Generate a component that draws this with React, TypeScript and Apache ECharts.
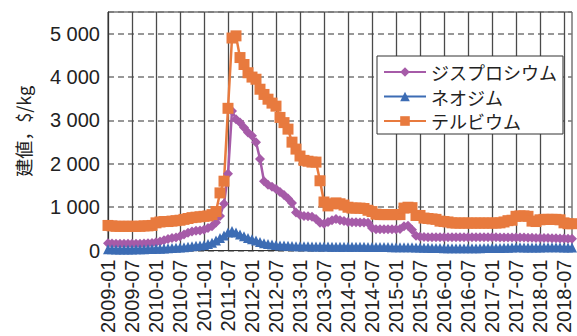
import React, { useEffect, useRef } from 'react';
import * as echarts from 'echarts';

const years = [2009, 2010, 2011, 2012, 2013, 2014, 2015, 2016, 2017, 2018];
const lastMonthOf2018 = 9;
const categories: string[] = [];
for (const y of years) {
  for (let m = 1; m <= 12; m++) {
    if (y === 2018 && m > lastMonthOf2018) break;
    categories.push(`${y}-${String(m).padStart(2, '0')}`);
  }
}

const seriesNames = ['ジスプロシウム', 'ネオジム', 'テルビウム'];

// ジスプロシウム (Dy)
const dysprosium = [
  170, 165, 160, 160, 160, 160, 160, 160, 160, 165, 170, 175,
  190, 210, 240, 270, 290, 300, 330, 370, 410, 440, 460, 465,
  480, 520, 560, 650, 800, 1080, 1770, 3220, 3030, 2950, 2840, 2720,
  2650, 2500, 2110, 1600, 1520, 1470, 1420, 1350, 1280, 1200, 1100, 880,
  820, 800, 790, 780, 730, 640, 620, 660, 700, 730, 700, 680,
  660, 655, 655, 650, 650, 640, 520, 490, 490, 490, 490, 490,
  490, 500, 560, 570, 480, 340, 320, 315, 310, 310, 310, 310,
  310, 310, 310, 310, 310, 310, 310, 310, 310, 310, 310, 310,
  305, 305, 300, 300, 300, 300, 300, 300, 300, 295, 295, 290,
  290, 290, 290, 285, 285, 280, 280, 275, 275,
];

// ネオジム (Nd)
const neodymium = [
  30, 30, 28, 28, 28, 28, 28, 30, 30, 32, 35, 38,
  42, 45, 50, 55, 60, 65, 70, 80, 90, 100, 110, 120,
  130, 150, 180, 230, 290, 350, 420, 450, 420, 370, 330, 290,
  260, 230, 200, 170, 150, 140, 130, 120, 115, 110, 105, 100,
  100, 100, 98, 95, 95, 95, 92, 92, 90, 90, 90, 90,
  90, 90, 88, 88, 88, 85, 85, 85, 85, 82, 82, 80,
  80, 80, 80, 78, 75, 72, 70, 68, 65, 62, 60, 58,
  55, 55, 55, 55, 55, 55, 55, 55, 56, 56, 58, 58,
  60, 62, 62, 65, 68, 72, 75, 75, 72, 70, 70, 70,
  72, 75, 75, 75, 75, 75, 72, 72, 70,
];

// テルビウム (Tb)
const terbium = [
  580, 570, 560, 560, 560, 560, 560, 560, 560, 570, 570, 580,
  640, 660, 670, 670, 680, 690, 700, 720, 740, 760, 770, 780,
  790, 800, 830, 900, 1330, 1600, 3280, 4900, 4950, 4450, 4290, 4100,
  4000, 3950, 3720, 3600, 3490, 3400, 3330, 3070, 2950, 2800, 2500, 2340,
  2180, 2080, 2060, 2040, 2040, 1610, 1120, 1030, 1080, 1100, 1080, 1050,
  1000, 980, 980, 980, 970, 930, 900, 840, 830, 830, 830, 830,
  830, 830, 980, 1000, 990, 810, 810, 750, 740, 730, 720, 680,
  670, 660, 640, 635, 635, 635, 635, 635, 635, 635, 635, 635,
  635, 635, 640, 660, 690, 700, 790, 800, 800, 790, 680, 670,
  710, 720, 720, 720, 720, 710, 640, 620, 620,
];

const yMin = 0;
const yMax = 5500;
const yInterval = 1000;
const yLabelMax = 5000;

const colors = ['#A65BA8', '#3C6CB4', '#E87A3E'];

function fmt(v: number): string {
  if (v > yLabelMax) return '';
  const s = String(v);
  return s.length > 3 ? s.slice(0, s.length - 3) + ' ' + s.slice(-3) : s;
}

export default function App() {
  const ref = useRef<HTMLDivElement>(null);
  useEffect(() => {
    document.body.style.margin = '0';
    if (!ref.current) return;
    const chart = echarts.init(ref.current, undefined, { renderer: 'svg' });
    const numFont = 'Liberation Sans, Arial, Helvetica, sans-serif';
    const jpFont = 'Noto Sans CJK JP, sans-serif';
    chart.setOption({
      animation: false,
      grid: {
        left: 108, right: 5, top: 12, bottom: 83,
        show: true, borderColor: '#333', borderWidth: 1,
      },
      legend: {
        orient: 'vertical',
        left: 377, top: 56,
        itemWidth: 42, itemHeight: 12, itemGap: 6.5,
        padding: [7, 6, 4, 6],
        borderColor: '#333', borderWidth: 1, backgroundColor: '#fff',
        textStyle: { fontSize: 18, fontFamily: jpFont, color: '#222', lineHeight: 18 },
        data: seriesNames,
      },
      xAxis: {
        type: 'category',
        data: categories,
        boundaryGap: false,
        axisLine: { lineStyle: { color: '#333', width: 1 } },
        axisTick: { show: false },
        axisLabel: {
          interval: 5, rotate: 90, fontSize: 20, color: '#222',
          fontFamily: numFont, margin: 9,
        },
        splitLine: { show: true, interval: 5, lineStyle: { color: '#4a4a4a', width: 1.3 } },
      },
      yAxis: {
        type: 'value',
        min: yMin, max: yMax, interval: yInterval,
        name: '建値，$/kg',
        nameLocation: 'middle',
        nameGap: 76,
        nameTextStyle: { fontSize: 18, fontFamily: jpFont, color: '#222' },
        axisLine: { show: true, lineStyle: { color: '#333', width: 1 } },
        axisTick: { show: false },
        axisLabel: {
          formatter: fmt, fontSize: 20, color: '#222', fontFamily: numFont, margin: 8,
        },
        splitLine: { show: true, lineStyle: { type: [6, 4], color: '#777', width: 1.5 } },
      },
      series: [
        {
          name: seriesNames[0], type: 'line', data: dysprosium,
          symbol: 'diamond', symbolSize: 10, showAllSymbol: true, clip: false,
          lineStyle: { width: 2.5, color: colors[0] }, itemStyle: { color: colors[0] },
        },
        {
          name: seriesNames[1], type: 'line', data: neodymium,
          symbol: 'triangle', symbolSize: 10, showAllSymbol: true, clip: false,
          lineStyle: { width: 2.5, color: colors[1] }, itemStyle: { color: colors[1] },
        },
        {
          name: seriesNames[2], type: 'line', data: terbium,
          symbol: 'rect', symbolSize: 11, showAllSymbol: true, clip: false,
          lineStyle: { width: 2.5, color: colors[2] }, itemStyle: { color: colors[2] },
        },
      ],
    });
    return () => chart.dispose();
  }, []);
  return <div ref={ref} style={{ width: 577, height: 336 }} />;
}
